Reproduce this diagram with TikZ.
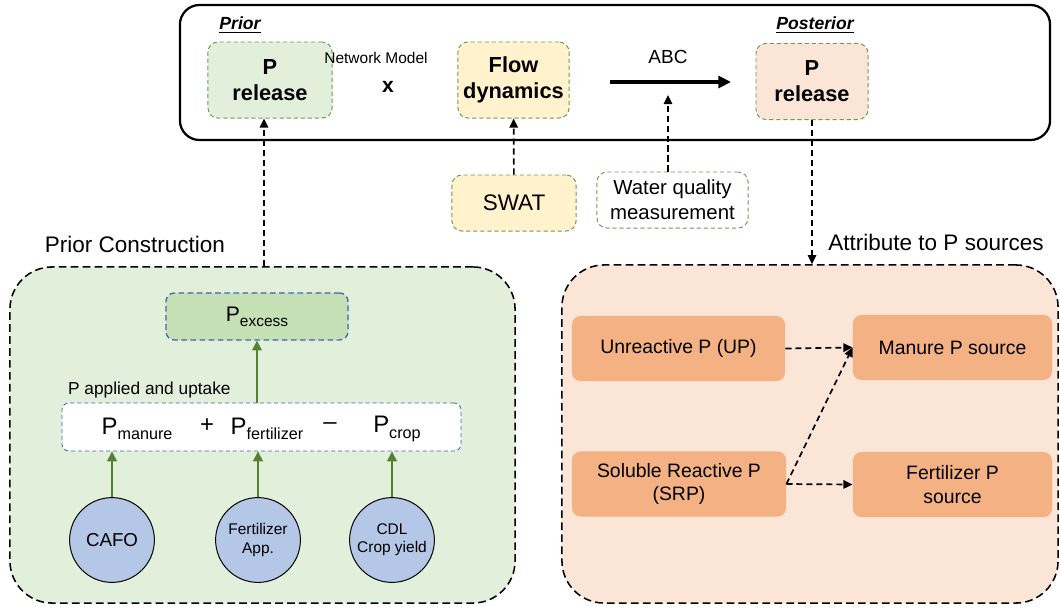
\documentclass[tikz,border=0pt]{standalone}
\usepackage{fontspec}
\setmainfont{Liberation Sans}
\usetikzlibrary{arrows.meta,positioning,calc}
\definecolor{consgreen}{HTML}{E2EFDA}
\definecolor{excessgreen}{HTML}{C5E0B4}
\definecolor{flowyellow}{HTML}{FFF2CC}
\definecolor{postpeach}{HTML}{FBE5D6}
\definecolor{srcorange}{HTML}{F4B183}
\definecolor{srcblue}{HTML}{B4C7E7}
\definecolor{edgegreen}{HTML}{6F9A52}
\definecolor{edgeblue}{HTML}{3E64B0}
\definecolor{arrowgreen}{HTML}{548235}
\newcommand*{\fsz}[2]{\fontsize{#1}{#2}\selectfont}
\newcommand*{\Psub}[3]{{\fsz{#1}{#1}P\raisebox{-0.45ex}{\fsz{#2}{#2}#3}}}

\begin{document}
\begin{tikzpicture}[->, >={Triangle[length=6.5pt,width=6pt]}, semithick, x=0.025cm, y=-0.025cm]
    \tikzstyle{every node}=[font=\fsz{12}{14}]
    \tikzstyle{modelframe}=[draw=black, line width=1.6pt, rounded corners=14pt, minimum width=21.75cm, minimum height=3.375cm]
    \tikzstyle{frame}=[draw=black, line width=1.1pt, dash pattern=on 5.5pt off 3pt, rounded corners=30pt]
    \tikzstyle{release}=[draw=edgegreen, line width=0.7pt, dash pattern=on 3pt off 2pt, rounded corners=7pt, minimum height=1.9cm, align=center, font=\fsz{15.5}{18.5}\bfseries]
    \tikzstyle{tag}=[font=\fsz{12.5}{15}\bfseries\itshape]
    \tikzstyle{title}=[font=\fsz{16}{19}]
    \tikzstyle{excess}=[fill=excessgreen, draw=edgeblue, line width=0.9pt, dash pattern=on 4pt off 2.5pt, rounded corners=6pt, minimum width=4.55cm, minimum height=1.175cm]
    \tikzstyle{formula}=[fill=white, draw=edgeblue, line width=0.6pt, dash pattern=on 3pt off 2pt, rounded corners=5pt, minimum width=9.975cm, minimum height=1.2cm]
    \tikzstyle{term}=[font=\fsz{17}{19}, inner sep=1pt]
    \tikzstyle{source}=[circle, fill=srcblue, draw=black, line width=0.7pt, minimum size=2.12cm, inner sep=1pt, align=center, font=\fsz{13.3}{16}]
    \tikzstyle{src}=[fill=srcorange, rounded corners=6pt, minimum height=1.625cm, align=center, font=\fsz{13.8}{16.7}]
    \tikzstyle{link}=[black, line width=1.2pt, dash pattern=on 4.3pt off 2.8pt]
    \tikzstyle{feed}=[arrowgreen, line width=0.9pt, -{Triangle[length=7pt,width=7pt]}]
    \useasboundingbox (0,0) rectangle (1060,606);

    % network model with ABC
    \node[modelframe] (model) at (615,72.5) {};
    \node[release, fill=consgreen, minimum width=3.1cm] (prior) at (270,80) {P\\release};
    \node[tag] (priortag) at (240,25) {\underline{Prior}};
    \node[font=\fsz{11}{13}] (netmodel) at (376,58) {Network Model};
    \node[font=\fsz{15}{17}\bfseries] (times) at (388,87) {x};
    \node[release, fill=flowyellow, minimum width=2.775cm] (flow) at (513.5,80) {Flow\\dynamics};
    \node[font=\fsz{13.5}{16}] (abc) at (668,57) {ABC};
    \coordinate (abcstart) at (610,82);
    \coordinate (abcend) at (731,82);
    \coordinate (abcin) at (668,95);
    \node[tag] (posttag) at (815,25) {\underline{Posterior}};
    \node[release, fill=postpeach, minimum width=2.8cm] (post) at (812,81.5) {P\\release};

    % inputs
    \node[release, fill=flowyellow, minimum width=3.1cm, minimum height=1.4cm, font=\fsz{16}{18}] (swat) at (514,203) {SWAT};
    \node[release, fill=white, minimum width=3.775cm, minimum height=1.4cm, font=\fsz{14.5}{17.5}] (water) at (672.5,200) {Water quality\\measurement};

    % prior construction
    \node[frame, fill=consgreen, minimum width=12.625cm, minimum height=8.4cm] (cons) at (262.5,435) {};
    \node[title] (constitle) at (135,244) {Prior Construction};
    \node[excess] (excess) at (257,316.5) {\Psub{15}{11}{excess}};
    \node[formula] (sum) at (261.5,427) {};
    \node[anchor=west, font=\fsz{12.3}{14}] (uptake) at (63,390) {P applied and uptake};
    \node[term] (pman) at (137,429) {\Psub{17}{11.5}{manure}};
    \node[term] (plus) at (207,426) {+};
    \node[term] (pfert) at (267,429) {\Psub{17}{11.5}{fertilizer}};
    \node[term] (minus) at (330,426) {--};
    \node[term] (pcrop) at (397,429) {\Psub{17}{11.5}{crop}};
    \node[source] (cafo) at (112,540) {CAFO};
    \node[source, font=\fsz{11}{13}] (fertapp) at (258,540) {Fertilizer\\App.};
    \node[source, font=\fsz{11}{13}] (cdl) at (392,540) {CDL\\Crop yield};

    % attribution
    \node[frame, fill=postpeach, minimum width=12.4cm, minimum height=8.45cm] (attr) at (810,434) {};
    \node[title] (attrtitle) at (936,242) {Attribute to P sources};
    \node[src, minimum width=5.325cm] (up) at (678.5,348.5) {Unreactive P (UP)};
    \node[src, minimum width=4.975cm] (manure) at (952.5,347.5) {Manure P source};
    \node[src, minimum width=5.35cm] (srp) at (679,484) {Soluble Reactive P\\(SRP)};
    \node[src, minimum width=4.975cm] (fertsrc) at (952.5,484.5) {Fertilizer P\\source};

    \draw[black, line width=2.6pt, -{Triangle[length=9pt,width=8.5pt]}] (abcstart) -- (abcend);
    \draw[link] (swat) -- (flow);
    \draw[link] (water.north -| abcin) -- (abcin);
    \draw[link] ([xshift=-0.15cm]prior.south |- cons.north) -- ([xshift=-0.15cm]prior.south);
    \draw[link] (post.south) -- (post.south |- attr.north);
    \path[feed]
(sum.north -| excess) edge (excess.south)
(cafo.north)    edge (cafo.north |- sum.south)
(fertapp.north) edge (fertapp.north |- sum.south)
(cdl.north)     edge (cdl.north |- sum.south);
    \path[link]
(up.east)  edge (manure.west)
(srp.east) edge (manure.west)
           edge (fertsrc.west);
\end{tikzpicture}
\end{document}
